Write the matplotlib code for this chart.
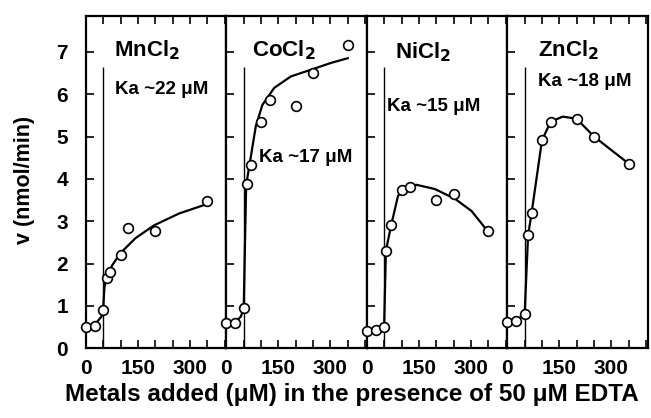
import matplotlib
matplotlib.use("Agg")
import matplotlib.pyplot as plt

plt.rcParams['font.family'] = ['Liberation Sans', 'DejaVu Sans']
plt.rcParams['font.weight'] = 'bold'

# metal names and apparent Ka
metals = ["MnCl$_2$", "CoCl$_2$", "NiCl$_2$", "ZnCl$_2$"]
ka_labels = ["Ka ~22 \u03bcM", "Ka ~17 \u03bcM", "Ka ~15 \u03bcM", "Ka ~18 \u03bcM"]

# measured points (metal added, uM ; v, nmol/min)
mn_x = [0, 25, 50, 60, 70, 100, 120, 200, 350]
mn_y = [0.51, 0.53, 0.91, 1.66, 1.8, 2.2, 2.84, 2.76, 3.47]
co_x = [0, 25, 50, 60, 70, 100, 125, 200, 250, 350]
co_y = [0.6, 0.6, 0.95, 3.89, 4.32, 5.35, 5.87, 5.71, 6.51, 7.16]
ni_x = [0, 25, 50, 55, 70, 100, 125, 200, 250, 350]
ni_y = [0.41, 0.43, 0.51, 2.29, 2.91, 3.73, 3.8, 3.49, 3.64, 2.76]
zn_x = [0, 25, 50, 60, 70, 100, 125, 200, 250, 350]
zn_y = [0.62, 0.65, 0.81, 2.67, 3.19, 4.91, 5.35, 5.42, 5.0, 4.36]

# fitted curves
mn_cx = [25, 45, 50, 53, 58, 75, 100, 143, 196, 268, 340]
mn_cy = [0.55, 0.75, 0.95, 1.4, 1.65, 1.95, 2.25, 2.6, 2.9, 3.18, 3.38]
co_cx = [25, 42, 50, 57, 71, 85, 104, 138, 186, 241, 302, 350]
co_cy = [0.6, 0.75, 0.95, 3.85, 4.55, 5.25, 5.75, 6.15, 6.42, 6.57, 6.74, 6.85]
ni_cx = [25, 50, 55, 70, 90, 120, 143, 196, 254, 302, 345]
ni_cy = [0.45, 0.55, 2.3, 2.9, 3.6, 3.82, 3.86, 3.76, 3.53, 3.24, 2.8]
zn_cx = [0, 25, 50, 60, 70, 100, 125, 160, 200, 250, 350]
zn_cy = [0.62, 0.65, 0.81, 2.67, 3.19, 4.91, 5.35, 5.47, 5.42, 5.0, 4.36]

points = [(mn_x, mn_y), (co_x, co_y), (ni_x, ni_y), (zn_x, zn_y)]
curves = [(mn_cx, mn_cy), (co_cx, co_cy), (ni_cx, ni_cy), (zn_cx, zn_cy)]

x_ticks = [0, 150, 300]
x_tick_labels = ["0", "150", "300"]
x_minor = [50, 100, 200, 250, 350, 400]
y_ticks = [0, 1, 2, 3, 4, 5, 6, 7]

# label anchors (data coords)
name_pos = [(81, 7.05), (75, 7.05), (81, 7.0), (89, 7.05)]
ka_pos = [(84, 6.1), (95, 4.5), (57, 5.7), (89, 6.3)]

edta = 50

fig, axes = plt.subplots(1, 4, figsize=(6.51, 4.18), dpi=100)
fig.subplots_adjust(left=0.132, right=0.995, top=0.962, bottom=0.167, wspace=0)

for i, ax in enumerate(axes):
    px, py = points[i]
    cx, cy = curves[i]
    ax.vlines(edta, 0, 6.65, color='black', lw=1.0)
    ax.plot(cx, cy, color='black', lw=1.6, zorder=3)
    ax.plot(px, py, 'o', ms=7, mfc='white', mec='black', mew=1.2,
            clip_on=False, zorder=4)
    ax.text(name_pos[i][0], name_pos[i][1], metals[i], fontsize=16,
            fontweight='bold', ha='left', va='center')
    ax.text(ka_pos[i][0], ka_pos[i][1], ka_labels[i], fontsize=13.5,
            fontweight='bold', ha='left', va='center')

    ax.set_xlim(0, 405)
    ax.set_ylim(0, 7.85)
    ax.set_xticks(x_ticks)
    ax.set_xticklabels(x_tick_labels)
    ax.set_xticks(x_minor, minor=True)
    ax.set_yticks(y_ticks)
    if i > 0:
        ax.set_yticklabels([])
    ax.tick_params(axis='x', which='both', direction='in', top=True,
                   length=6, width=1.2, labelsize=15, pad=8)
    ax.tick_params(axis='y', which='both', direction='in', right=False,
                   length=6, width=1.2, labelsize=15, pad=13)
    for s in ax.spines.values():
        s.set_linewidth(1.6)

fig.text(0.038, 0.57, "v (nmol/min)", rotation=90, ha='center', va='center',
         fontsize=15.5, fontweight='bold')
fig.text(0.541, 0.057, "Metals added (\u03bcM) in the presence of 50 \u03bcM EDTA",
         ha='center', va='center', fontsize=17.5, fontweight='bold')

fig.savefig("out.png", dpi=100)
